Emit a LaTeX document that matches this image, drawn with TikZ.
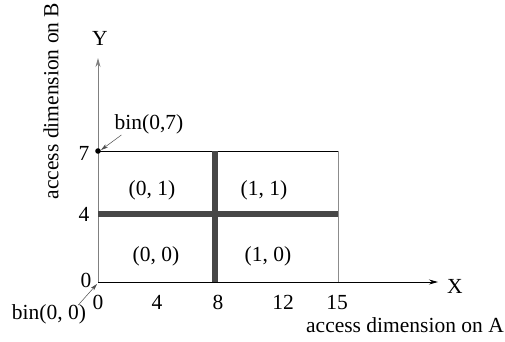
\documentclass[tikz,border=0pt]{standalone}
\usepackage{fontspec}
\setmainfont{Liberation Serif}
\usetikzlibrary{arrows.meta}
\begin{document}
\begin{tikzpicture}[x=1pt,y=-1pt,
  lbl/.style={inner sep=0pt,font=\fontsize{21.5}{26}\selectfont},
  axistip/.style={-{Stealth[length=9pt,width=5pt,inset=3pt]}},
  bar/.style={line width=5.5pt,draw=black!72},
  pointer/.style={-{Stealth[length=7pt,width=4pt,inset=2pt]},line width=0.5pt,black!70}]
\useasboundingbox (0,0) rectangle (505,341);
% axes
\coordinate (O) at (98,282);
\coordinate (ytip) at (98,58);
\coordinate (xtip) at (438,282);
\draw[axistip,black!50,line width=0.8pt] (O) -- (ytip);
\draw[axistip,line width=0.8pt] (O) -- (xtip);
% outer box
\coordinate (tl) at (98,151);
\coordinate (tr) at (338,151);
\coordinate (br) at (338,282);
\draw[line width=0.8pt] (tl) -- (tr);
\draw[black!45,line width=0.8pt] (tr) -- (br);
% partition bars
\coordinate (hl) at (98,214);
\coordinate (hr) at (338,214);
\coordinate (vt) at (215,151);
\coordinate (vb) at (215,282);
\draw[bar] (hl) -- (hr);
\draw[bar] (vt) -- (vb);
% corner point
\fill (tl) circle (2.8pt);
% tick labels
\node[lbl] (y7) at (84,153) {7};
\node[lbl] (y4) at (84,214) {4};
\node[lbl] (y0) at (86,280) {0};
\node[lbl] (x0) at (98,302) {0};
\node[lbl] (x4) at (157,302) {4};
\node[lbl] (x8) at (218,302) {8};
\node[lbl] (x12) at (283,302) {12};
\node[lbl] (x15) at (337,302) {15};
% axis names
\node[lbl] (X) at (455,286) {X};
\node[lbl] (Y) at (100,38) {Y};
\node[lbl] (alabel) at (405,325) {access dimension on A};
\node[lbl,rotate=90] (blabel) at (51,101) {access dimension on B};
% cell labels
\node[lbl] (c01) at (152,190) {(0, 1)};
\node[lbl] (c11) at (264,190) {(1, 1)};
\node[lbl] (c00) at (156,256) {(0, 0)};
\node[lbl] (c10) at (268,256) {(1, 0)};
% bin annotations with pointers to the corner points
\node[lbl] (b07) at (149,124) {bin(0,7)};
\node[lbl] (b00) at (49,314) {bin(0, 0)};
\draw[pointer] ([xshift=7pt,yshift=-1pt]b07.south west) -- ([xshift=3pt,yshift=1pt]tl);
\draw[pointer] ([xshift=-8pt,yshift=-1pt]b00.north east) -- ([xshift=-1pt,yshift=-2pt]O);
\end{tikzpicture}
\end{document}
